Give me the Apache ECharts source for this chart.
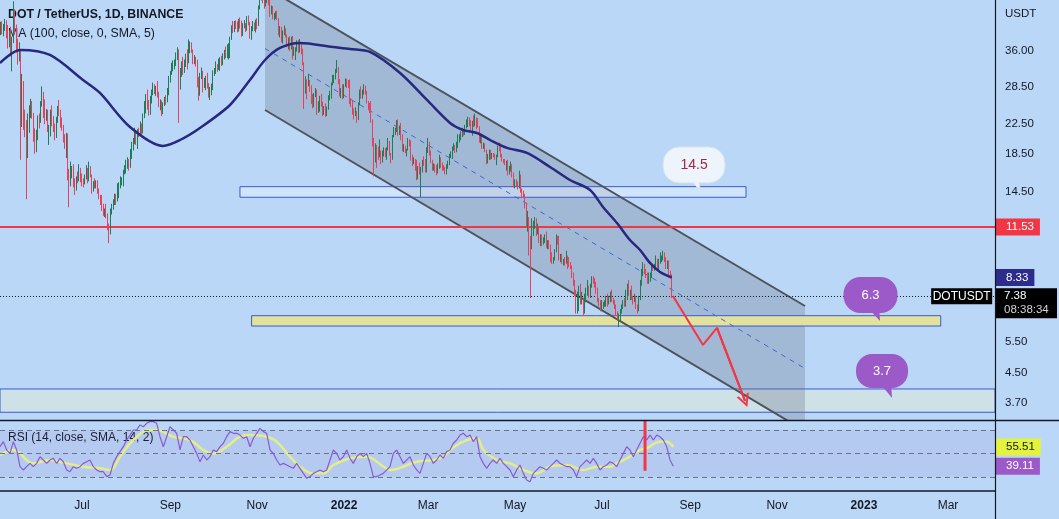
<!DOCTYPE html>
<html>
<head>
<meta charset="utf-8">
<title>DOT / TetherUS</title>
<script src="https://cdn.jsdelivr.net/npm/echarts@6.0.0/dist/echarts.min.js"></script>
<style>
html,body{margin:0;padding:0;background:#bbd7f7;overflow:hidden;}
#chart{width:1059px;height:519px;}
</style>
</head>
<body>
<div id="chart"></div>
<script>
// Day index: 0 = 2021-07-01. First candle = 2021-05-05.
const FIRST_DAY = -57;

// Daily candles [open, high, low, close]
const candles2021 = [
// May 2021 (5..31)
[41.0,43.4,39.8,42.5],[42.5,43.5,40.0,40.8],[40.8,42.8,39.5,41.6],[41.6,44.2,40.9,43.3],[43.3,43.8,39.0,41.0],
[41.0,42.5,36.5,37.6],[37.6,41.0,36.8,40.5],[40.5,42.0,34.7,35.3],[35.3,39.4,31.5,38.2],[38.2,49.5,37.8,44.8],
[44.8,47.0,40.2,40.9],[40.9,42.6,35.6,38.0],[38.0,38.9,32.9,34.0],[34.0,38.0,33.6,35.2],[35.2,36.0,17.8,25.8],
[25.8,31.0,22.0,28.6],[28.6,29.6,21.6,23.9],[23.9,24.6,20.6,22.6],[22.6,23.0,13.8,18.4],[18.4,24.0,18.0,23.6],
[23.6,25.3,21.2,24.2],[24.2,26.4,23.3,25.3],[25.3,26.0,23.2,23.8],[23.8,24.1,20.0,20.6],[20.6,21.8,18.5,19.6],
[19.6,21.6,18.7,20.9],[20.9,23.7,20.2,23.4],
// Jun 2021
[23.4,24.0,21.8,23.0],[23.0,26.0,22.6,25.6],[25.6,28.6,25.1,27.4],[27.4,27.6,23.3,24.6],[24.6,26.3,22.4,23.2],
[23.2,24.7,22.9,24.0],[24.0,24.6,21.3,21.6],[21.6,22.3,19.6,21.9],[21.9,24.6,20.7,24.3],[24.3,25.3,22.1,22.8],
[22.8,23.6,21.3,22.1],[22.1,22.5,20.2,21.5],[21.5,23.5,20.5,23.1],[23.1,25.2,22.6,24.4],[24.4,26.2,23.6,24.2],
[24.2,24.6,21.9,22.3],[22.3,23.4,21.5,22.0],[22.0,22.3,19.9,20.3],[20.3,21.0,19.1,19.8],[19.8,21.2,18.0,20.9],
[20.9,21.1,15.6,16.1],[16.1,16.8,13.1,15.4],[15.4,17.6,15.0,16.4],[16.4,17.1,15.8,16.9],[16.9,17.3,14.9,15.3],
[15.3,15.8,14.2,14.9],[14.9,16.0,14.6,15.9],[15.9,16.5,15.3,15.6],[15.6,17.3,15.5,16.7],[16.7,16.9,15.4,16.1],
// Jul 2021
[16.1,16.3,15.0,15.5],[15.5,15.8,14.9,15.4],[15.4,16.2,15.2,15.9],[15.9,17.2,15.7,16.8],[16.8,16.9,15.3,15.7],
[15.7,17.6,15.5,16.4],[16.4,17.1,15.9,16.1],[16.1,16.2,14.3,14.9],[14.9,15.5,14.5,15.3],[15.3,15.8,14.8,15.0],
[15.0,15.6,14.8,15.4],[15.4,15.6,14.3,14.6],[14.6,14.8,13.8,14.1],[14.1,14.2,13.3,13.9],[13.9,14.2,12.8,13.0],
[13.0,13.4,12.4,12.6],[12.6,13.0,12.3,12.8],[12.8,13.4,12.2,12.4],[12.4,12.6,11.3,11.6],[11.6,11.8,10.4,11.2],
[11.2,13.0,11.0,12.8],[12.8,13.4,12.5,13.1],[13.1,13.8,12.9,13.5],[13.5,14.3,13.3,14.0],[14.0,14.3,13.3,13.8],
[13.8,15.3,13.6,14.4],[14.4,15.4,13.9,15.2],[15.2,16.0,14.8,15.3],[15.3,15.9,15.1,15.6],[15.6,16.7,15.0,16.5],
[16.5,17.2,16.2,16.9],
// Aug 2021
[16.9,17.8,16.3,16.9],[16.9,18.1,16.8,17.4],[17.4,17.9,16.6,17.2],[17.2,19.1,16.9,18.8],[18.8,20.0,17.9,19.5],
[19.5,20.5,18.9,20.1],[20.1,21.9,19.7,21.0],[21.0,21.6,19.6,20.0],[20.0,21.7,19.1,21.4],[21.4,21.9,20.6,21.2],
[21.2,22.8,20.9,22.0],[22.0,22.5,20.6,21.3],[21.3,24.0,21.1,23.6],[23.6,26.0,23.3,24.6],[24.6,27.2,24.0,26.4],
[26.4,28.0,24.6,25.2],[25.2,26.2,23.7,24.1],[24.1,26.9,23.8,26.3],[26.3,28.0,25.6,27.4],[27.4,29.3,27.0,28.5],
[28.5,29.0,27.2,27.9],[27.9,28.7,26.9,28.4],[28.4,29.6,26.6,27.0],[27.0,27.6,25.0,25.3],[25.3,26.3,24.5,25.8],
[25.8,26.1,23.6,24.3],[24.3,25.8,23.9,25.5],[25.5,26.7,25.2,26.2],[26.2,27.0,25.4,26.0],[26.0,28.3,25.8,27.8],
[27.8,30.6,27.0,30.2],
// Sep 2021
[30.2,31.6,29.3,31.1],[31.1,33.3,30.8,32.6],[32.6,33.8,31.5,33.0],[33.0,34.0,31.9,33.3],[33.3,35.6,32.6,35.4],
[35.4,36.8,33.9,35.8],[35.8,36.3,22.6,30.1],[30.1,32.2,28.0,31.0],[31.0,33.6,30.4,33.0],[33.0,34.6,30.8,31.8],
[31.8,34.0,31.2,33.5],[33.5,35.3,32.4,34.8],[34.8,36.3,31.9,33.8],[33.8,38.7,33.2,36.3],[36.3,38.2,35.4,37.6],
[37.6,38.0,35.5,36.0],[36.0,36.3,33.0,33.5],[33.5,35.0,33.0,34.3],[34.3,34.6,32.5,33.7],[33.7,34.0,28.4,29.4],
[29.4,30.4,26.1,27.3],[27.3,31.2,26.9,30.9],[30.9,32.3,30.0,31.3],[31.3,31.6,27.5,29.2],[29.2,30.2,28.3,29.5],
[29.5,30.6,27.9,30.0],[30.0,31.2,28.2,28.5],[28.5,29.2,26.6,26.9],[26.9,28.5,26.2,27.3],[27.3,29.1,27.0,28.6],
// Oct 2021
[28.6,31.7,27.9,31.2],[31.2,32.2,30.6,31.5],[31.5,33.6,31.0,32.7],[32.7,33.0,31.4,32.0],[32.0,34.2,31.8,33.4],
[33.4,34.5,31.6,34.0],[34.0,34.8,32.6,33.0],[33.0,35.4,32.8,34.2],[34.2,36.2,34.0,35.6],[35.6,37.0,34.3,34.7],
[34.7,37.5,34.3,36.8],[36.8,37.8,34.0,37.2],[37.2,39.4,34.3,39.0],[39.0,42.4,38.6,42.0],[42.0,43.6,40.3,41.0],
[41.0,43.6,40.6,43.0],[43.0,43.8,41.4,42.5],[42.5,43.5,40.5,41.1],[41.1,44.2,40.7,43.2],[43.2,44.6,41.5,42.0],
[42.0,43.7,39.4,40.0],[40.0,43.0,39.6,42.3],[42.3,43.9,41.6,42.8],[42.8,43.0,40.6,41.4],[41.4,45.0,41.0,44.5],
[44.5,45.2,42.4,42.8],[42.8,43.4,38.9,39.2],[39.2,42.2,38.6,41.3],[41.3,43.6,40.8,42.6],[42.6,43.2,40.9,41.7],
[41.7,44.0,40.5,42.9],
// Nov 2021
[42.9,44.4,41.3,42.7],[42.7,48.2,42.2,47.5],[47.5,52.6,47.0,51.5],[51.5,55.0,49.8,53.2],[53.2,53.6,48.9,49.8],
[49.8,50.3,47.2,48.6],[48.6,50.4,47.9,49.6],[49.6,53.0,49.0,51.2],[51.2,52.0,48.2,48.9],[48.9,50.5,44.8,46.4],
[46.4,48.2,45.5,47.6],[47.6,48.0,44.1,44.8],[44.8,45.9,43.8,45.2],[45.2,46.4,44.2,45.5],[45.5,46.6,43.9,44.2],
[44.2,44.4,39.7,40.6],[40.6,42.2,39.2,41.5],[41.5,42.0,38.0,38.3],[38.3,41.0,37.7,40.6],[40.6,42.3,39.8,41.1],
[41.1,41.6,39.2,39.5],[39.5,40.0,36.8,37.2],[37.2,39.2,36.3,38.9],[38.9,39.5,35.9,36.7],[36.7,39.4,36.3,38.8],
[38.8,39.6,34.0,35.0],[35.0,37.0,34.8,36.3],[36.3,36.8,33.9,36.3],[36.3,38.5,35.8,37.8],[37.8,38.6,35.4,36.0],
// Dec 2021
[36.0,38.8,35.6,37.5],[37.5,37.9,35.2,35.9],[35.9,36.5,32.8,33.2],[33.2,33.4,24.7,28.7],[28.7,30.5,27.3,29.7],
[29.7,29.9,26.3,28.9],[28.9,31.0,28.6,29.4],[29.4,29.8,27.6,28.5],[28.5,28.8,25.5,25.8],[25.8,27.2,24.8,25.2],
[25.2,27.4,25.0,27.2],[27.2,28.3,26.7,27.9],[27.9,28.0,23.8,24.5],[24.5,26.0,24.1,25.7],[25.7,26.9,24.3,26.5],
[26.5,27.2,25.1,25.4],[25.4,25.9,23.6,24.3],[24.3,25.2,23.8,24.6],[24.6,25.6,23.5,24.2],[24.2,25.1,23.6,24.8],
[24.8,27.0,24.6,26.6],[26.6,27.8,26.1,26.9],[26.9,29.3,26.4,29.0],[29.0,30.8,28.8,29.6],[29.6,30.8,29.2,30.4],
[30.4,32.0,29.9,31.6],[31.6,33.9,31.2,32.3],[32.3,32.4,29.0,29.3],[29.3,30.0,26.8,27.0],[27.0,28.3,26.5,27.7],
[27.7,29.0,26.3,26.8]
];

const candles2022 = [
// Jan 2022
[26.8,29.0,26.5,28.8],[28.8,30.1,28.5,29.6],[29.6,30.0,28.3,29.0],[29.0,29.8,28.3,28.9],[28.9,29.9,25.5,26.4],
[26.4,26.5,25.0,25.8],[25.8,26.2,23.8,24.5],[24.5,24.8,23.1,23.9],[23.9,25.0,23.6,24.3],[24.3,24.4,22.6,23.2],
[23.2,25.8,23.0,25.5],[25.5,28.0,25.3,27.7],[27.7,28.6,26.4,26.8],[26.8,28.0,26.4,27.6],[27.6,29.0,27.1,28.2],
[28.2,28.7,27.1,27.6],[27.6,27.8,25.6,25.9],[25.9,26.0,24.6,25.3],[25.3,25.7,24.1,24.7],[24.7,26.0,22.6,22.9],
[22.9,23.1,19.4,20.0],[20.0,20.5,16.0,17.9],[17.9,19.8,17.5,19.5],[19.5,19.6,16.9,18.6],[18.6,19.4,17.8,18.5],
[18.5,20.3,18.1,18.6],[18.6,18.9,17.3,17.9],[17.9,18.9,17.5,18.6],[18.6,19.3,18.2,18.8],[18.8,19.2,18.1,18.7],
[18.7,19.3,17.8,19.1],
// Feb 2022
[19.1,20.5,18.9,19.9],[19.9,20.1,18.3,18.5],[18.5,18.6,17.4,18.0],[18.0,20.9,17.8,20.8],[20.8,22.0,20.6,21.4],
[21.4,21.9,20.9,21.7],[21.7,23.0,21.3,22.6],[22.6,23.1,20.8,21.3],[21.3,22.2,20.9,21.9],[21.9,22.6,20.2,20.5],
[20.5,21.0,18.8,19.1],[19.1,19.7,18.7,19.2],[19.2,19.5,18.6,18.8],[18.8,19.1,18.2,18.9],[18.9,20.5,18.9,20.3],
[20.3,20.3,19.4,19.8],[19.8,20.2,17.7,18.0],[18.0,18.4,17.1,17.5],[17.5,18.1,17.3,17.8],[17.8,17.9,16.6,16.9],
[16.9,17.8,15.6,16.1],[16.1,17.1,15.7,16.9],[16.9,17.5,16.2,16.4],[16.4,17.0,14.0,16.8],[16.8,17.8,16.4,17.5],
[17.5,18.2,17.1,17.4],[17.4,17.9,16.4,16.7],[16.7,19.3,16.4,19.1],
// Mar 2022
[19.1,20.5,18.6,19.5],[19.5,20.0,18.3,18.6],[18.6,18.9,17.4,17.7],[17.7,17.8,16.6,16.8],[16.8,17.4,16.6,17.2],
[17.2,17.3,16.4,16.6],[16.6,17.2,16.1,16.5],[16.5,17.4,16.3,16.9],[16.9,18.4,16.8,18.0],[18.0,18.1,16.9,17.2],
[17.2,17.5,16.6,16.9],[16.9,17.2,16.6,16.8],[16.8,17.0,16.2,16.4],[16.4,17.3,16.2,17.1],[17.1,17.7,16.8,17.5],
[17.5,18.5,17.2,18.3],[18.3,18.8,18.0,18.4],[18.4,19.4,17.9,19.2],[19.2,19.8,18.9,19.4],[19.4,19.6,18.6,19.0],
[19.0,20.0,18.7,19.4],[19.4,21.0,19.2,20.3],[20.3,21.0,19.9,20.7],[20.7,21.4,20.2,20.9],[20.9,21.9,20.6,21.3],
[21.3,21.5,20.8,21.1],[21.1,22.3,20.9,22.0],[22.0,23.1,21.8,22.3],[22.3,23.5,22.0,23.0],[23.0,23.4,22.1,22.5],
[22.5,23.0,21.3,21.6],
// Apr 2022
[21.6,22.9,20.8,22.6],[22.6,23.7,22.0,22.4],[22.4,24.0,22.1,23.2],[23.2,23.4,21.7,22.6],[22.6,23.3,21.9,22.0],
[22.0,22.1,19.9,20.2],[20.2,20.8,19.8,20.5],[20.5,20.9,19.1,19.3],[19.3,19.9,19.1,19.5],[19.5,19.8,18.7,18.9],
[18.9,19.0,17.3,17.6],[17.6,18.5,17.4,18.0],[18.0,19.0,17.8,18.7],[18.7,19.0,17.8,18.0],[18.0,18.6,17.9,18.4],
[18.4,18.6,18.1,18.3],[18.3,18.5,17.8,17.9],[17.9,18.4,17.2,18.3],[18.3,19.5,18.1,19.2],[19.2,19.9,18.8,19.0],
[19.0,19.8,18.1,18.3],[18.3,18.5,17.6,17.8],[17.8,17.9,17.4,17.6],[17.6,17.9,17.2,17.4],[17.4,17.7,16.6,17.5],
[17.5,17.8,16.1,16.3],[16.3,17.1,16.2,16.8],[16.8,17.6,16.5,17.1],[17.1,17.3,15.9,16.1],[16.1,16.4,14.9,15.0],
// May 2022
[15.0,15.7,14.8,15.5],[15.5,15.7,15.0,15.4],[15.4,15.5,14.7,14.9],[14.9,16.6,14.8,16.0],[16.0,16.2,14.4,14.7],
[14.7,14.8,13.9,14.5],[14.5,14.6,13.9,14.2],[14.2,14.3,13.0,13.4],[13.4,13.5,11.6,11.8],[11.8,12.8,11.2,11.9],
[11.9,12.3,9.6,10.2],[10.2,10.9,7.3,10.1],[10.1,12.2,10.0,11.6],[11.6,12.0,10.9,11.7],[11.7,12.3,11.4,12.2],
[12.2,12.2,10.9,11.1],[11.1,11.8,11.0,11.3],[11.3,11.5,10.4,10.5],[10.5,11.0,10.2,10.8],[10.8,11.0,10.2,10.4],
[10.4,10.8,10.3,10.6],[10.6,11.0,10.4,10.8],[10.8,11.2,10.1,10.2],[10.2,10.6,10.0,10.4],[10.4,10.6,10.0,10.2],
[10.2,10.3,9.2,9.6],[9.6,9.8,9.1,9.2],[9.2,9.5,9.1,9.4],[9.4,10.0,9.3,9.9],[9.9,11.0,9.8,10.8],
[10.8,10.9,10.3,10.6],
// Jun 2022
[10.6,10.9,9.3,9.4],[9.4,9.7,9.2,9.6],[9.6,9.7,9.1,9.2],[9.2,9.4,9.0,9.3],[9.3,9.5,9.0,9.2],
[9.2,9.9,9.1,9.5],[9.5,9.6,8.8,9.3],[9.3,9.5,8.9,9.0],[9.0,9.2,8.8,8.9],[8.9,9.0,8.3,8.4],
[8.4,8.6,7.9,8.1],[8.1,8.2,7.4,7.6],[7.6,7.7,6.6,7.0],[7.0,7.6,6.6,7.4],[7.4,7.9,6.7,7.8],
[7.8,8.0,7.0,7.1],[7.1,7.6,7.0,7.3],[7.3,7.3,6.5,6.8],[6.8,7.5,6.6,7.4],[7.4,7.8,7.1,7.6],
[7.6,8.2,7.4,7.8],[7.8,7.9,7.3,7.4],[7.4,8.0,7.3,7.9],[7.9,8.4,7.8,8.3],[8.3,8.4,8.0,8.2],
[8.2,8.3,7.8,7.9],[7.9,8.1,7.5,7.6],[7.6,7.8,7.1,7.2],[7.2,7.3,6.9,7.1],[7.1,7.2,6.7,6.9],
// Jul 2022
[6.9,7.2,6.7,6.9],[6.9,7.1,6.8,7.0],[7.0,7.2,6.9,7.0],[7.0,7.4,6.9,7.3],[7.3,7.5,6.9,7.2],
[7.2,7.4,7.0,7.2],[7.2,7.6,7.1,7.5],[7.5,7.7,7.1,7.2],[7.2,7.3,7.0,7.1],[7.1,7.2,6.8,6.9],
[6.9,7.0,6.5,6.6],[6.6,6.7,6.3,6.4],[6.4,6.6,6.05,6.5],[6.5,6.8,6.3,6.7],[6.7,7.0,6.6,6.9],
[6.9,7.2,6.8,7.1],[7.1,7.3,6.9,6.9],[6.9,7.7,6.9,7.5],[7.5,8.0,7.2,7.7],[7.7,8.2,7.4,7.5],
[7.5,7.7,7.2,7.6],[7.6,7.9,7.2,7.3],[7.3,7.4,7.0,7.2],[7.2,7.5,7.1,7.3],[7.3,7.4,6.8,6.9],
[6.9,7.0,6.6,6.7],[6.7,7.4,6.7,7.3],[7.3,8.2,7.2,8.0],[8.0,8.8,7.9,8.6],[8.6,9.2,8.4,8.9],
[8.9,9.1,8.5,8.6],
// Aug 2022 (1..19)
[8.6,8.8,8.3,8.5],[8.5,8.6,8.0,8.2],[8.2,8.6,8.0,8.3],[8.3,8.6,8.1,8.4],[8.4,9.0,8.3,8.9],
[8.9,9.0,8.7,8.8],[8.8,9.1,8.7,8.9],[8.9,9.6,8.8,9.3],[9.3,9.4,8.8,8.9],[8.9,9.4,8.7,9.3],
[9.3,9.8,9.1,9.4],[9.4,9.6,9.2,9.5],[9.5,9.9,9.3,9.6],[9.6,9.8,9.2,9.3],[9.3,9.5,8.8,9.0],
[9.0,9.3,8.8,9.1],[9.1,9.3,8.4,8.5],[8.5,8.7,8.3,8.4],[8.4,8.5,7.3,7.38]
];

// MA(100): [day, price]
const ma100 = [
[-57.6,33.25],[-43.5,36.17],[-22.5,35.02],[0.7,29.8],[12.6,27.4],[33.7,22.0],[56.9,19.47],[68.8,20.23],
[82.8,21.86],[103.9,25.36],[117.9,29.8],[128.5,33.9],[139,36.65],[153,37.85],[176.2,36.88],[188.2,36.41],
[202.2,35.71],[223.3,31.17],[242.2,26.19],[258.4,22.58],[267.5,21.58],[277.3,21.17],[286.5,20.23],[298.4,19.22],
[312.4,18.61],[328.6,17.0],[342.6,15.63],[356.7,14.65],[365.8,13.13],[375.6,11.84],[384.7,10.61],[391.8,9.95],
[398.8,9.15],[405.8,8.63],[414,8.33]
];

// RSI(14), sampled every RSI_STEP days from RSI_START
const RSI_START = -57.57, RSI_STEP = 2.3403;
const rsi14 = [
55.8,60.1,53.0,50.1,60.1,53.0,38.8,36.0,38.8,41.6,
38.8,41.6,47.3,44.5,41.6,44.5,45.9,41.6,45.9,43.0,
36.0,34.5,38.8,37.4,38.8,41.6,43.0,44.5,38.8,36.0,
34.5,34.5,30.3,31.7,41.6,47.3,51.6,55.8,61.5,65.7,
70.0,70.0,74.3,72.8,75.7,77.1,77.1,75.7,64.3,55.8,
64.3,72.8,70.0,67.2,53.0,64.3,64.3,61.5,55.8,50.1,
43.0,48.7,44.5,47.3,53.0,51.6,55.8,58.7,64.3,68.6,
67.2,67.2,65.7,62.9,64.3,55.8,62.9,67.2,71.4,68.6,
67.2,53.0,50.1,44.5,40.2,41.6,40.2,38.8,37.4,41.6,
37.4,33.1,28.9,30.3,33.1,34.5,36.0,34.5,36.0,44.5,
53.0,50.1,44.5,47.3,53.0,
45.9,41.6,47.3,50.1,47.3,50.1,41.6,30.3,30.3,31.7,
33.1,36.0,38.8,50.1,53.0,47.3,41.6,44.5,47.3,40.2,
36.0,33.1,41.6,50.1,47.3,41.6,44.5,48.7,45.9,51.6,
53.0,58.7,61.5,65.7,67.2,64.3,65.7,60.1,64.3,47.3,
41.6,37.4,41.6,44.5,41.6,45.9,41.6,38.8,36.0,30.3,
36.0,40.2,33.1,27.4,26.0,33.1,36.0,38.8,37.4,36.0,
38.8,41.6,44.5,41.6,40.2,38.8,38.8,36.0,30.3,38.8,
41.6,44.5,41.6,45.9,41.6,36.0,38.8,40.2,43.0,41.6,
38.8,44.5,50.1,55.8,53.0,47.3,53.0,58.7,64.3,61.5,
65.7,61.5,65.7,64.3,61.5,55.8,44.5,39.11
];

// RSI SMA(14): [day, value]
const rsiSma = [
[-57.6,48.7],[-48.2,53.0],[-34.2,41.6],[-22.5,44.5],[-10.8,41.6],[0.9,38.8],[12.6,37.4],[19.7,36.0],
[26.7,47.3],[36.0,61.5],[47.7,70.0],[52.4,70.0],[64.1,64.3],[75.8,61.5],[85.2,53.0],[92.2,50.1],
[101.6,55.8],[110.9,64.3],[117.9,65.7],[129.7,64.3],[136.7,60.1],[146.0,47.3],[153.1,38.8],[162.4,33.1],
[169.4,33.1],[176.5,40.2],[188.2,45.9],[199.9,47.3],[211.6,38.8],[216.2,36.0],[235.0,43.0],[246.7,44.5],
[253.7,47.3],[258.4,53.0],[267.7,60.1],[277.1,62.9],[281.8,53.0],[291.1,44.5],[300.5,41.6],[309.9,36.0],
[319.2,33.1],[328.6,38.8],[340.3,40.2],[352.0,36.0],[361.3,38.8],[370.7,38.8],[375.4,41.6],[384.7,47.3],
[391.8,53.0],[396.4,54.4],[405.8,60.1],[410.5,60.1],[415.2,55.51]
];

// Drawings (in day / price units)
const channelCorners = [[128.5,54.3],[507.6,6.93],[507.6,3.094],[128.5,24.55]];
const channelUpper = [[128.5,54.3],[507.6,6.93]];
const channelLower = [[128.5,24.55],[507.6,3.094]];
const channelMid = [[128.5,36.5],[507.6,4.63]];
const boxBlue = [110.9, 466.2, 13.98, 14.97];     // [day from, day to, low, high]
const boxYellow = [119.1, 602.9, 6.09, 6.51];
const zoneLow = [-57.57, 641.0, 3.491, 4.057];
const projection = [[414.9,7.39],[436,5.39],[445.8,6.015],[465.5,3.755]];
const rsiMarker = [[395.3,78.5],[395.3,35.4]];
const bubbles = [
  {text:'14.5', d:429.7, p:17.22, tipD:433.9, tipP:14.65},
  {text:'6.3',  d:553.6, p:7.44,  tipD:560.3, tipP:6.29},
  {text:'3.7',  d:561.7, p:4.557, tipD:568.7, tipP:3.829}
];
const LEVEL_RED = 11.53, LAST_PRICE = 7.38, MA_LAST = 8.33, RSI_LAST = 39.11, RSI_MA_LAST = 55.51;
const LAST_TIME = '08:38:34', SYMBOL = 'DOTUSDT';

const priceTicks = [36, 28.5, 22.5, 18.5, 14.5, 5.5, 4.5, 3.7];
const monthDays = [0, 62, 123, 184, 243, 304, 365, 427, 488, 549, 608];
const monthLabels = ['Jul','Sep','Nov','2022','Mar','May','Jul','Sep','Nov','2023','Mar'];

// ---- styles / layout ----
const FONT = "'Liberation Sans', Arial, sans-serif";
const TXT = '#131722';
const X_MIN = -57.57, X_MAX = 641.0;
const P_MIN = 3.321, P_MAX = 49.93;
const R_MIN = 18.09, R_MAX = 78.51;
const bubbleStyles = [
  {w:62, h:36, r:16, fill:'#eef4fb', stroke:'#d3e0ef', color:'#a8243f', font:'14px '},
  {w:54, h:36, r:17, fill:'#9c59c8', stroke:null, color:'#ffffff', font:'13px '},
  {w:52, h:34, r:16, fill:'#9c59c8', stroke:null, color:'#ffffff', font:'13px '}
];

const allCandles = candles2021.concat(candles2022);
const candleData = allCandles.map((c, i) => [FIRST_DAY + i, c[0], c[3], c[2], c[1]]);
const rsiData = rsi14.map((v, k) => [RSI_START + k * RSI_STEP, v]);

function boxSeries(box, fill, stroke, z) {
  return {
    type: 'custom', xAxisIndex: 0, yAxisIndex: 0, z: z, clip: true, silent: true,
    data: [box], encode: {x: [0, 1], y: [2, 3]},
    renderItem: function (params, api) {
      const a = api.coord([api.value(0), api.value(3)]);
      const b = api.coord([api.value(1), api.value(2)]);
      return {type: 'rect', shape: {x: a[0], y: a[1], width: b[0] - a[0], height: b[1] - a[1]},
              style: {fill: fill, stroke: stroke, lineWidth: 1}};
    }
  };
}
function segSeries(pts, color, width, type, z) {
  return {type: 'line', xAxisIndex: 0, yAxisIndex: 0, data: pts, symbol: 'none', z: z, silent: true,
          clip: true, lineStyle: {color: color, width: width, type: type}};
}
function tag(value, text, bg, fg) {
  return {yAxis: value, lineStyle: {color: 'rgba(0,0,0,0)'},
          label: {show: true, position: 'end', distance: 1, formatter: text, backgroundColor: bg, color: fg,
                  padding: [3, 6, 2, 10], fontSize: 11.5, lineHeight: 12, fontFamily: FONT}};
}

const chart = echarts.init(document.getElementById('chart'), null, {renderer: 'canvas'});
chart.setOption({
  animation: false,
  backgroundColor: '#bbd7f7',
  textStyle: {fontFamily: FONT},
  grid: [
    {left: 0, right: 64, top: 0, height: 420},
    {left: 0, right: 64, top: 420, height: 71}
  ],
  xAxis: [
    {type: 'value', gridIndex: 0, min: X_MIN, max: X_MAX, show: false},
    {type: 'value', gridIndex: 1, min: X_MIN, max: X_MAX,
     axisLine: {show: false}, axisTick: {show: false}, splitLine: {show: false},
     axisLabel: {customValues: monthDays, margin: 9, color: TXT, fontSize: 12, fontFamily: FONT,
       formatter: function (v) {
         const t = monthLabels[monthDays.indexOf(v)];
         return /^\d{4}$/.test(t) ? '{b|' + t + '}' : t;
       },
       rich: {b: {fontWeight: 'bold', fontSize: 12, fontFamily: FONT, color: TXT}}}}
  ],
  yAxis: [
    {type: 'log', logBase: 10, gridIndex: 0, min: P_MIN, max: P_MAX, position: 'right',
     axisLine: {show: false}, axisTick: {show: false}, splitLine: {show: false},
     axisLabel: {customValues: priceTicks, formatter: v => Number(v).toFixed(2), color: TXT,
                 fontSize: 11.5, fontFamily: FONT, margin: 10}},
    {type: 'value', gridIndex: 1, min: R_MIN, max: R_MAX, position: 'right',
     axisLine: {show: false}, axisTick: {show: false}, splitLine: {show: false}, axisLabel: {show: false}}
  ],
  graphic: [
    {type: 'text', left: 8, top: 9, z: 1, style: {text: 'DOT / TetherUS, 1D, BINANCE', font: 'bold 12.3px ' + FONT, fill: TXT}},
    {type: 'text', left: 8, top: 28, z: 1, style: {text: 'MA (100, close, 0, SMA, 5)', font: '12.3px ' + FONT, fill: TXT}},
    {type: 'text', left: 8, top: 432, z: 1, style: {text: 'RSI (14, close, SMA, 14, 2)', font: '12px ' + FONT, fill: TXT}},
    {type: 'text', left: 1005, top: 8, z: 1, style: {text: 'USDT', font: '11.5px ' + FONT, fill: TXT}},
    {type: 'line', z: 100, shape: {x1: 995.5, y1: 0, x2: 995.5, y2: 519}, style: {stroke: '#131722', lineWidth: 1.2}},
    {type: 'line', z: 100, shape: {x1: 0, y1: 420.5, x2: 1059, y2: 420.5}, style: {stroke: '#131722', lineWidth: 1.5}},
    {type: 'line', z: 100, shape: {x1: 0, y1: 491, x2: 995, y2: 491}, style: {stroke: '#131722', lineWidth: 1.5}}
  ],
  series: [
    boxSeries(zoneLow, '#cde1e7', '#3a58d8', 1),
    {
      type: 'custom', xAxisIndex: 0, yAxisIndex: 0, z: 2, clip: true, silent: true,
      data: [channelCorners[0]],
      renderItem: function (params, api) {
        const pts = channelCorners.map(p => api.coord(p));
        return {type: 'polygon', shape: {points: pts}, style: {fill: 'rgba(105,115,135,0.30)'}};
      }
    },
    boxSeries(boxBlue, 'rgba(235,243,252,0.45)', '#3a58d8', 3),
    boxSeries(boxYellow, '#e2e29c', '#3a58d8', 3),
    segSeries(channelUpper, '#4e535b', 2, 'solid', 4),
    segSeries(channelLower, '#4e535b', 2, 'solid', 4),
    segSeries(channelMid, '#3d68dc', 1, [5, 5], 4),
    {
      type: 'candlestick', xAxisIndex: 0, yAxisIndex: 0, z: 5, data: candleData, barWidth: 1, silent: true,
      itemStyle: {color: '#1f7d56', color0: '#e8405a', borderColor: '#1f7d56', borderColor0: '#e8405a', borderWidth: 1},
      markLine: {
        silent: true, symbol: ['none', 'none'], animation: false,
        data: [
          {yAxis: LEVEL_RED, lineStyle: {color: '#f23645', width: 2, type: 'solid'},
           label: {show: true, position: 'end', distance: 1, formatter: LEVEL_RED.toFixed(2), backgroundColor: '#f23645',
                   color: '#fff', padding: [3, 6, 2, 10], fontSize: 11.5, lineHeight: 12, fontFamily: FONT}},
          {yAxis: LAST_PRICE, lineStyle: {color: '#1a1a1a', width: 1, type: [1, 2]}, label: {show: false}}
        ]
      },
      markPoint: {
        silent: true, animation: false,
        data: [
          {coord: [617.6, LAST_PRICE], symbol: 'rect', symbolSize: [61, 16], itemStyle: {color: '#000'},
           label: {show: true, position: 'inside', formatter: SYMBOL, color: '#fff', fontSize: 12, fontFamily: FONT}},
          {coord: [X_MAX, LAST_PRICE], symbol: 'rect', symbolSize: [62, 30], symbolOffset: [31, 7], itemStyle: {color: '#000'},
           label: {show: true, position: 'inside', formatter: '{a|' + LAST_PRICE.toFixed(2) + '}\n{b|' + LAST_TIME + '}',
                   rich: {a: {color: '#fff', fontSize: 11.5, lineHeight: 14, align: 'left', width: 44, fontFamily: FONT},
                          b: {color: '#d4d4d4', fontSize: 11.5, lineHeight: 14, align: 'left', width: 44, fontFamily: FONT}}}}
        ]
      }
    },
    {
      type: 'line', xAxisIndex: 0, yAxisIndex: 0, z: 6, data: ma100, smooth: 0.3, symbol: 'none', silent: true,
      lineStyle: {color: '#27287f', width: 2.5},
      markLine: {silent: true, symbol: ['none', 'none'], data: [tag(MA_LAST, MA_LAST.toFixed(2), '#2b2c8c', '#fff')]}
    },
    {
      type: 'line', xAxisIndex: 0, yAxisIndex: 0, z: 7, data: projection, symbol: 'none', silent: true,
      lineStyle: {color: '#f23645', width: 2},
      markLine: {
        silent: true, symbol: ['none', 'path://M0,10L5,0L10,10L8.3,10L5,3.4L1.7,10Z'], symbolSize: [13, 13],
        lineStyle: {color: '#f23645', width: 2, type: 'solid'}, label: {show: false},
        data: [[{coord: projection[2]}, {coord: projection[3]}]]
      }
    },
    {
      type: 'custom', xAxisIndex: 0, yAxisIndex: 0, z: 8, silent: true, clip: false,
      data: bubbles.map(b => [b.d, b.p]),
      renderItem: function (params, api) {
        const b = bubbles[params.dataIndex];
        const st = bubbleStyles[params.dataIndex];
        const c = api.coord([b.d, b.p]);
        const t = api.coord([b.tipD, b.tipP]);
        const x = c[0] - st.w / 2, y = c[1] - st.h / 2;
        return {type: 'group', children: [
          {type: 'polygon', shape: {points: [[t[0] - 13, y + st.h - 6], [t[0] - 1, y + st.h - 6], [t[0], t[1]]]},
           style: {fill: st.fill, stroke: st.stroke, lineWidth: 1}},
          {type: 'rect', shape: {x: x, y: y, width: st.w, height: st.h, r: st.r},
           style: {fill: st.fill, stroke: st.stroke, lineWidth: 1}},
          {type: 'polygon', shape: {points: [[t[0] - 12, y + st.h - 7], [t[0] - 2, y + st.h - 7], [t[0] - 1, t[1] - 3]]},
           style: {fill: st.fill}},
          {type: 'text', style: {text: b.text, x: c[0], y: c[1], align: 'center', verticalAlign: 'middle',
                                 fill: st.color, font: st.font + FONT}}
        ]};
      }
    },
    {
      type: 'line', xAxisIndex: 1, yAxisIndex: 1, z: 5, data: rsiData, symbol: 'none', silent: true,
      lineStyle: {color: '#8a5bd0', width: 1.2},
      markArea: {silent: true, itemStyle: {color: 'rgba(126,87,194,0.10)'}, data: [[{yAxis: 30}, {yAxis: 70}]]},
      markLine: {
        silent: true, symbol: ['none', 'none'],
        data: [
          {yAxis: 70, lineStyle: {color: '#6d7385', width: 1, type: [5, 4]}, label: {show: false}},
          {yAxis: 50, lineStyle: {color: '#6d7385', width: 1, type: [5, 4]}, label: {show: false}},
          {yAxis: 30, lineStyle: {color: '#6d7385', width: 1, type: [5, 4]}, label: {show: false}},
          tag(RSI_MA_LAST, RSI_MA_LAST.toFixed(2), '#e4f43c', TXT),
          tag(RSI_LAST, RSI_LAST.toFixed(2), '#9c59c8', '#fff')
        ]
      }
    },
    {
      type: 'line', xAxisIndex: 1, yAxisIndex: 1, z: 4, data: rsiSma, smooth: 0.4, symbol: 'none', silent: true,
      lineStyle: {color: '#e3ee84', width: 2.5}
    },
    {
      type: 'line', xAxisIndex: 1, yAxisIndex: 1, z: 6, data: rsiMarker, symbol: 'none', silent: true,
      lineStyle: {color: '#f23645', width: 3}
    }
  ]
});
</script>
</body>
</html>
